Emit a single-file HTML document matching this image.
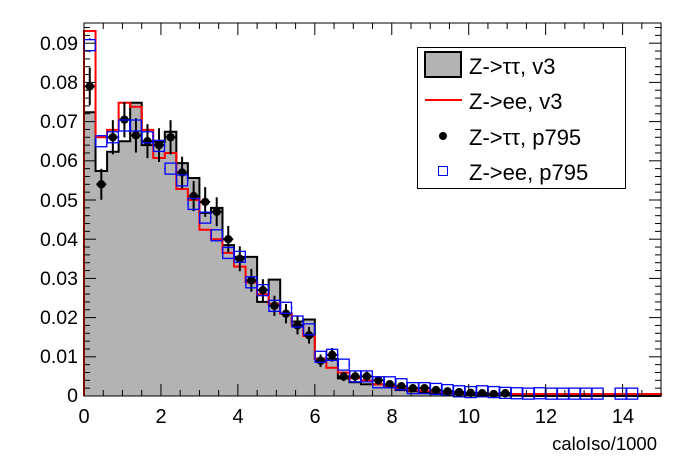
<!DOCTYPE html>
<html><head><meta charset="utf-8"><style>
html,body{margin:0;padding:0;background:#fff;}
svg{display:block;font-family:"Liberation Sans",sans-serif;}
</style></head><body>
<svg id="s" width="696" height="472" viewBox="0 0 696 472" xmlns="http://www.w3.org/2000/svg">
<rect width="696" height="472" fill="#fff"/>
<g id="plot"></g>
<g id="axes" stroke="#000" stroke-width="1" fill="none"></g>
<g font-size="19.5" fill="#000" text-anchor="end">
<text x="78" y="50">0.09</text>
<text x="78" y="89">0.08</text>
<text x="78" y="128">0.07</text>
<text x="78" y="167">0.06</text>
<text x="78" y="207">0.05</text>
<text x="78" y="246">0.04</text>
<text x="78" y="285">0.03</text>
<text x="78" y="324">0.02</text>
<text x="78" y="363">0.01</text>
<text x="78" y="402">0</text>
</g>
<g font-size="20" fill="#000" text-anchor="middle">
<text x="84" y="423">0</text>
<text x="161" y="423">2</text>
<text x="238" y="423">4</text>
<text x="315" y="423">6</text>
<text x="392" y="423">8</text>
<text x="469" y="423">10</text>
<text x="546" y="423">12</text>
<text x="623" y="423">14</text>
</g>
<text x="657" y="450" font-size="18.5" text-anchor="end">caloIso/1000</text>
<g>
<rect x="417.5" y="47.5" width="208" height="141" fill="#fff" stroke="#000" stroke-width="1"/>
<rect x="425" y="52" width="36" height="25" fill="#b3b3b3" stroke="#000" stroke-width="2"/>
<line x1="425" y1="100" x2="462" y2="100" stroke="#f00" stroke-width="2"/>
<circle cx="443" cy="136" r="4" fill="#000"/>
<rect x="438.5" y="166.5" width="9" height="9" fill="none" stroke="#00f" stroke-width="1"/>
<g font-size="22" fill="#000">
<text x="469" y="74">Z-&gt;ττ, v3</text>
<text x="469" y="109">Z-&gt;ee, v3</text>
<text x="469" y="145">Z-&gt;ττ, p795</text>
<text x="469" y="180">Z-&gt;ee, p795</text>
</g>
</g>
</svg>
<script>
var X0=84,XS=38.47,Y0=396,YS=3920,W=0.3;
function px(x){return X0+x*XS;} function py(v){return Y0-v*YS;}
var bk=[0.0724,0.0574,0.0623,0.065,0.0748,0.064,0.0648,0.0674,0.0594,0.0556,0.0467,0.048,0.0385,0.0355,0.0355,0.024,0.0297,0.021,0.019,0.0195,0.0095,0.0095,0.0045,0.0035,0.003,0.003,0.0025,0.0015,0.0012,0.001,0.0008,0.0006,0.0005,0.0004,0.0003,0.0002,0.0002,0.0001,0,0,0,0,0,0,0,0,0,0,0,0];
var rd=[0.0931,0.066,0.0679,0.0748,0.0738,0.0679,0.0607,0.062,0.0528,0.05,0.0424,0.04,0.0365,0.033,0.029,0.026,0.0235,0.021,0.018,0.0153,0.0095,0.0072,0.006,0.0045,0.004,0.003,0.0025,0.002,0.0015,0.0013,0.0011,0.001,0.0009,0.0008,0.0007,0.0006,0.0006,0.0005,0.0005,0.0005,0.0005,0.0005,0.0005,0.0005,0.0005,0.0005,0.0005,0.0005,0.0005,0.0005];
var bp=[0.079,0.054,0.066,0.0705,0.0665,0.065,0.064,0.066,0.057,0.051,0.0495,0.047,0.040,0.035,0.0295,0.027,0.023,0.021,0.018,0.0155,0.009,0.0105,0.005,0.005,0.005,0.004,0.003,0.0025,0.002,0.002,0.0015,0.0012,0.001,0.0008,0.0007,0.0005,0.0007];
var bl=[0.0895,0.065,0.066,0.069,0.069,0.066,0.0638,0.058,0.055,0.049,0.0455,0.041,0.0365,0.0355,0.029,0.027,0.023,0.0225,0.019,0.017,0.010,0.0105,0.008,0.005,0.005,0.0035,0.0035,0.003,0.002,0.002,0.0018,0.0015,0.0012,0.001,0.0012,0.001,0.0008,0.0008,0.0009,0,0.0007,0,0.0006,0.0005,0,0,0,0,0,0];
bl[37]=0.0007;bl[38]=0.0006;bl[39]=0.0007;bl[40]=0.0006;bl[41]=0.0006;bl[42]=0.0006;bl[43]=0.0006;bl[44]=0.0006;bl[46]=0.0006;bl[47]=0.0006;
function step(a){var d="M"+px(0)+","+py(0);for(var i=0;i<a.length;i++){d+=" L"+px(i*W)+","+py(a[i])+" L"+px((i+1)*W)+","+py(a[i]);}d+=" L"+px(15)+","+py(0);return d;}
var h='';
h+='<path d="'+step(bk)+' Z" fill="#b3b3b3" stroke="none"/>';
h+='<path d="'+step(bk)+'" fill="none" stroke="#000" stroke-width="2"/>';
h+='<path d="'+step(rd)+'" fill="none" stroke="#f00" stroke-width="2"/>';
for(var i=0;i<bp.length;i++){var cx=px((i+0.5)*W),cy=py(bp[i]);var e=Math.sqrt(bp[i])*0.017;
h+='<line x1="'+cx+'" y1="'+py(bp[i]+e)+'" x2="'+cx+'" y2="'+py(bp[i]-e)+'" stroke="#000" stroke-width="2"/>';
h+='<line x1="'+(cx-5)+'" y1="'+cy+'" x2="'+(cx+5)+'" y2="'+cy+'" stroke="#000" stroke-width="2"/>';
h+='<circle cx="'+cx+'" cy="'+cy+'" r="4.2" fill="#000"/>';}
for(var i=0;i<bl.length;i++){if(bl[i]<=0)continue;var cx=px((i+0.5)*W),cy=py(bl[i]);var e=Math.min(7,Math.sqrt(bl[i])*0.006*YS);
if(e>5.5){h+='<line x1="'+cx+'" y1="'+(cy-e)+'" x2="'+cx+'" y2="'+(cy-5.5)+'" stroke="#00f" stroke-width="1.5"/><line x1="'+cx+'" y1="'+(cy+5.5)+'" x2="'+cx+'" y2="'+(cy+e)+'" stroke="#00f" stroke-width="1.5"/>';}
h+='<line x1="'+(cx-6.5)+'" y1="'+cy+'" x2="'+(cx-5.5)+'" y2="'+cy+'" stroke="#00f" stroke-width="1.5"/><line x1="'+(cx+5.5)+'" y1="'+cy+'" x2="'+(cx+6.5)+'" y2="'+cy+'" stroke="#00f" stroke-width="1.5"/>';
h+='<rect x="'+(cx-5.5)+'" y="'+(cy-5.5)+'" width="11" height="11" fill="none" stroke="#00f" stroke-width="1.3"/>';}
document.getElementById('plot').innerHTML=h;
var a='<rect x="84" y="23" width="577" height="373"/>';
for(var k=0;k<=47;k++){var v=k*0.002;var y=py(v);if(y<23)break;var L=(k%5==0)?12:6;a+='<line x1="84" y1="'+y+'" x2="'+(84+L)+'" y2="'+y+'"/><line x1="661" y1="'+y+'" x2="'+(661-L)+'" y2="'+y+'"/>';}
for(var k=0;k<=30;k++){var x=px(k*0.5);var L=(k%4==0)?12:6;a+='<line x1="'+x+'" y1="396" x2="'+x+'" y2="'+(396-L)+'"/><line x1="'+x+'" y1="23" x2="'+x+'" y2="'+(23+L)+'"/>';}
document.getElementById('axes').innerHTML=a;
</script>
</body></html>
